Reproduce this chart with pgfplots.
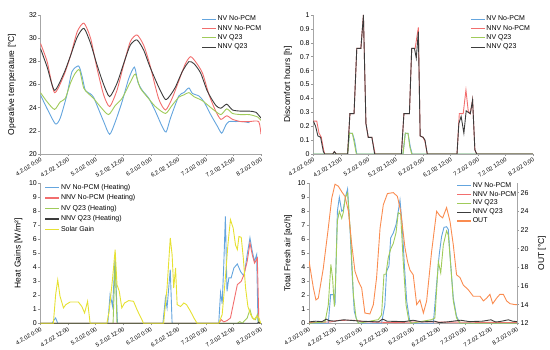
\documentclass[border=0pt]{standalone}
\usepackage{fontspec}
\setmainfont{Liberation Sans}
\usepackage{pgfplots}
\pgfplotsset{compat=1.18}
\definecolor{nvb}{RGB}{100,165,222}
\definecolor{nnvr}{RGB}{242,110,110}
\definecolor{nvg}{RGB}{160,203,90}
\definecolor{nnvk}{RGB}{60,60,60}
\definecolor{solar}{RGB}{230,225,50}
\definecolor{outo}{RGB}{250,140,80}
\pgfplotsset{
  base/.style={
    scale only axis,
    axis x line*=bottom, axis y line*=left,
    xmin=0, xmax=96, xtick={0,12,...,96},
    xticklabels={4.2.02 0:00,4.2.02 12:00,5.2.02 0:00,5.2.02 12:00,6.2.02 0:00,6.2.02 12:00,7.2.02 0:00,7.2.02 12:00,8.2.02 0:00},
    x tick label style={rotate=31, anchor=north east, font=\fontsize{5.8}{7}\selectfont, inner sep=1pt},
    y tick label style={font=\fontsize{7}{8}\selectfont, inner sep=1.5pt},
    /pgf/number format/assume math mode=true,
    tick align=outside, major tick length=2pt,
    tick style={gray!80, line width=0.4pt},
    axis line style={gray!70, line width=0.5pt},
    every axis plot/.append style={line width=0.9pt},
    ylabel style={font=\fontsize{8.5}{10}\selectfont, anchor=center},
    legend style={draw=none, fill=none, inner sep=0pt, outer sep=0pt,
      font=\fontsize{7}{8}\selectfont, row sep=0.8pt,
      nodes={inner sep=1pt, text height=5pt, text depth=1.5pt}},
    legend cell align=left,
    legend image code/.code={\draw[##1, line width=1.1pt] (0pt,0pt) -- (14pt,0pt);},
  }
}
\begin{document}
\begin{tikzpicture}
\useasboundingbox (0pt,0pt) rectangle (550pt,350pt);
% ---------------- Top left
\begin{axis}[base, anchor=south west, at={(40.5pt,196pt)}, width=220.5pt, height=139pt,
  ymin=20, ymax=32, ytick={20,22,...,32},
  ylabel={Operative temperature [°C]}, ylabel style={at={(axis description cs:-0.13,0.5)}},
  legend style={at={(axis description cs:0.73,1.0)}, anchor=north west}]
\addplot[nvb, smooth, tension=0.4] coordinates {(0,25.1) (2.9,23.9) (6.5,22.6) (8.6,23.1) (11.5,25.1) (13.7,27.1) (16.6,27.6) (18.1,26.7) (19.5,25.5) (21.7,25.2) (23.1,24.9) (24.6,24.2) (27.5,22.8) (30.1,21.7) (32.6,22.8) (35.5,24.5) (38.4,26.5) (40.9,27.5) (42.4,26.2) (44.3,25.5) (47.2,24.8) (50,23.7) (52.9,22.4) (54.7,21.9) (56.6,23.1) (60.2,25) (62.4,25.3) (64.6,25.7) (66.1,25.24) (69,25) (71.2,24.5) (74.1,23.4) (77,22.4) (78.9,21.8) (80.7,22.5) (82.1,22.8) (85,22.8) (88,22.8) (91,22.7)};
\addlegendentry{NV No-PCM}
\addplot[nnvr, smooth, tension=0.4] coordinates {(0,29.55) (2.9,27.97) (6.1,25.3) (10.2,26.8) (13.1,28.5) (16,30.56) (18.9,31.3) (21.8,30) (24.6,27.4) (27.5,25.1) (30.1,24.1) (33.3,25.5) (36.2,27.7) (39.1,29.7) (42,30.28) (44.9,29.4) (47.5,27.8) (51.4,24.8) (54.4,23.8) (57.3,24.8) (60.2,26.3) (63.1,27.8) (65.3,28.4) (67.5,27.97) (70.5,27) (73.4,25.1) (76.3,23.7) (78.5,22.99) (81.1,23.3) (83.6,22.99) (87.2,22.8) (90.9,22.8) (95,22.8) (96,21.7)};
\addlegendentry{NNV No-PCM}
\addplot[nvg, smooth, tension=0.4] coordinates {(0,25.3) (2.9,24.5) (6.1,23.85) (8.6,24.5) (10.8,24.8) (13,26.1) (15.1,26.97) (17,27.25) (18.8,25.7) (20.9,25.2) (23.1,24.8) (26,24.1) (29.6,23.4) (32.6,24.2) (35.5,24.8) (39.1,26.2) (41.3,26.9) (43.4,25.7) (47,24.8) (50,24.1) (54.4,23.5) (57.3,24.2) (60.2,24.9) (62.4,25.1) (64.6,25.3) (66.8,24.95) (70.5,24.6) (74.8,23.9) (78.5,23.4) (81.1,23.9) (83.6,23.5) (87.2,23.4) (90.9,23.4) (94.5,23.2) (96,22.9)};
\addlegendentry{NV Q23}
\addplot[nnvk, smooth, tension=0.4] coordinates {(0,29.1) (2.9,27.5) (6.1,25.5) (10.2,26.97) (13.1,28.5) (16,30.1) (18.9,30.85) (21.8,29.55) (24.6,27.7) (27.5,26) (30.1,24.95) (33.3,26.1) (36.2,27.8) (39.1,29.4) (42,29.85) (44.9,28.98) (47.5,27.6) (51.4,25.8) (54.4,24.7) (56.6,25.1) (58.8,25.8) (61.7,27.1) (64.6,27.97) (66.8,27.8) (69.7,27.0) (72.7,25.4) (76.3,24.2) (78.5,23.95) (81.1,24.3) (83.6,23.8) (87.2,23.7) (90.9,23.7) (93.8,23.6) (96,23.1)};
\addlegendentry{NNV Q23}
\end{axis}
% ---------------- Top right
\begin{axis}[base, anchor=south west, at={(313.3pt,196pt)}, width=219.7pt, height=139pt,
  ymin=0, ymax=1, ytick={0,0.1,0.2,0.3,0.4,0.5,0.6,0.7,0.8,0.9,1},
  yticklabel style={/pgf/number format/.cd, fixed, precision=1},
  ylabel={Discomfort hours [h]}, ylabel style={at={(axis description cs:-0.115,0.5)}},
  legend style={at={(axis description cs:0.715,1.0)}, anchor=north west}]
\addplot[nvb] coordinates {(0,0) (15,0) (15.8,0.15) (17.1,0.148) (18,0.1) (19,0) (39.2,0) (40.2,0.15) (41.4,0.148) (42.4,0.05) (43.2,0) (96,0)};
\addlegendentry{NV No-PCM}
\addplot[nnvr] coordinates {(0,0.237) (1,0.237) (1.5,0.237) (2.5,0.15) (3.5,0.12) (4.5,0.03) (5,0) (8.5,0) (9.2,0.017) (10,0) (15,0) (16,0.29) (17.8,0.29) (19,0.76) (20.8,0.76) (21.9,1.0) (23,0.22) (24,0.12) (25.6,0.12) (27,0) (38.5,0) (39.6,0.29) (42,0.29) (43,0.76) (44.5,0.76) (45.9,0.91) (46.7,0.13) (48,0.12) (48.8,0.09) (49.8,0) (62.8,0) (63.8,0.29) (65.5,0.29) (66.7,0.46) (67.7,0.31) (68.6,0.29) (69.6,0.39) (70.6,0.03) (71.4,0) (96,0)};
\addlegendentry{NNV No-PCM}
\addplot[nvg] coordinates {(0,0) (15,0) (15.8,0.15) (17.1,0.148) (17.8,0.09) (18.8,0) (39.2,0) (40.2,0.15) (41.4,0.148) (42.2,0.05) (43,0) (96,0)};
\addlegendentry{NV Q23}
\addplot[nnvk] coordinates {(0,0.237) (1,0.2) (2,0.13) (3.2,0.12) (4.4,0.017) (5,0) (8.5,0) (9.2,0.017) (10,0) (15,0) (16,0.29) (17.8,0.29) (19,0.76) (20.8,0.76) (21.9,1.0) (23,0.22) (24,0.12) (25.6,0.12) (26.8,0) (38.5,0) (39.6,0.29) (42,0.29) (43,0.76) (44.2,0.76) (45,0.69) (45.9,0.88) (46.7,0.13) (48,0.12) (48.8,0.1) (49.8,0) (62.8,0) (63.6,0.22) (64.6,0.27) (65.8,0.15) (66.8,0.31) (67.7,0.30) (68.6,0.29) (69.6,0.39) (70.6,0.03) (71.4,0) (96,0)};
\addlegendentry{NNV Q23}
\end{axis}
% ---------------- Bottom left
\begin{axis}[base, anchor=south west, at={(40.5pt,26.7pt)}, width=220.5pt, height=140pt,
  ymin=0, ymax=10, ytick={0,1,...,10},
  ylabel={Heat Gains [W/m²]}, ylabel style={at={(axis description cs:-0.10,0.5)}},
  legend style={at={(axis description cs:0.02,1.0)}, anchor=north west, row sep=2pt}]
\addplot[nvb] coordinates {(0,0) (5,0) (6,0.26) (6.6,0.38) (7.5,0) (29.3,0) (30.3,2.05) (31.4,1.2) (32.5,4.7) (33.5,0) (53.3,0) (54.4,1.81) (55.1,1.1) (56.5,3.83) (57.3,0) (77.6,0) (78.4,2.19) (79.1,1.4) (79.8,4.2) (80.5,7.64) (81.2,2.28) (82,3.24) (83,3.24) (84.2,3.95) (85.7,4.24) (87.1,3.7) (88.6,3.36) (90,4.9) (91.2,6.1) (92.2,5.14) (93.2,4.43) (94.1,4.9) (94.7,0) (96,0)};
\addlegendentry{NV No-PCM (Heating)}
\addplot[nnvr] coordinates {(0,0) (77.6,0) (78.7,0.26) (79.8,0.1) (81.2,0.19) (82.7,0.38) (84.2,1.57) (85.7,2.76) (87.4,3.0) (88.6,3.48) (90,4.43) (91.2,5.74) (92.2,4.9) (93.2,4.3) (94.4,4.67) (95.1,0) (96,0)};
\addlegendentry{NNV No-PCM (Heating)}
\addplot[nvg] coordinates {(0,0) (31.6,0) (32.5,4.5) (33.3,0) (85.7,0) (86.8,0.12) (87.8,0) (90,0.38) (91.2,0.98) (92.2,0.38) (93.6,0.26) (94.4,0.62) (95.1,0) (96,0)};
\addlegendentry{NV Q23 (Heating)}
\addplot[nnvk] coordinates {(0,0) (94.5,0) (95,0.08) (95.5,0) (96,0)};
\addlegendentry{NNV Q23 (Heating)}
\addplot[solar] coordinates {(0,0) (5.6,0) (6.6,2.05) (7.5,3.1) (8.5,1.93) (10,1.1) (11,1.33) (12.9,1.52) (16.5,1.52) (18,1.2) (19.2,0.74) (20.5,1.57) (21,0.86) (21.6,0) (28.9,0) (29.9,0.86) (31.4,3.24) (32.5,5.26) (33.3,2.76) (34.3,2.28) (35.4,1.1) (36.6,1.45) (38.4,1.62) (40.5,1.57) (42,0.98) (43.4,0.5) (44.9,0) (53.6,0) (55.1,2.52) (56.5,6.1) (57.3,4.9) (58,2.52) (58.8,3.95) (59.5,1.33) (61,1.2) (62.4,1.45) (63.6,1.33) (65.3,0.86) (66.8,0.38) (68.2,0) (77.6,0) (79.1,0.62) (80.5,3.24) (81.6,5.62) (82.7,7.4) (83.9,6.8) (84.9,5.6) (85.7,5.26) (86.4,6.2) (87.4,6.14) (88.3,4.67) (89.3,2.52) (90.3,1.2) (91.5,0.62) (93,0.26) (94.1,0.5) (95.1,0.38) (95.9,0) (96,0)};
\addlegendentry{Solar Gain}
\end{axis}
% ---------------- Bottom right
\begin{axis}[base, anchor=south west, at={(309pt,26.7pt)}, width=208pt, height=140pt,
  ymin=0, ymax=10, ytick={0,1,...,10},
  ylabel={Total Fresh air [ac/h]}, ylabel style={at={(axis description cs:-0.10,0.5)}}]
\addplot[nvb] coordinates {(0,0) (8.9,0) (10,2.05) (11.2,2.05) (12,1.3) (13.1,8.0) (14,9.0) (15.1,8.0) (15.8,8.1) (16.8,9.0) (17.8,9.6) (18.9,6.8) (20,3.2) (20.9,0.85) (22,0.26) (23,0) (33.5,0) (35,1.3) (35.8,3.7) (36.9,4.1) (37.7,6.1) (38.9,6.45) (40.2,7.05) (41.2,8.0) (42,8.8) (43,7.05) (44,4.2) (45.1,1.57) (46.4,0.26) (47.4,0) (57.4,0) (58.9,2.8) (60.1,4.9) (61.2,6.2) (62.3,6.85) (63.5,6.9) (64.3,6.7) (65.4,4.2) (66.6,1.8) (68.1,0.5) (69.7,0) (96,0)};
\addplot[nnvr] coordinates {(0,0.05) (10,0.1) (13,0.2) (18,0.22) (22,0.2) (26,0.1) (40,0.05) (50,0.1) (96,0.05)};
\addplot[nvg] coordinates {(0,0) (7.4,0.1) (8.9,1.3) (10.1,4.2) (10.9,3.2) (11.7,1.2) (12.2,2.76) (13.1,7.3) (14,8.0) (15.1,7.5) (15.8,7.9) (16.8,9.0) (17.8,9.3) (19.2,6.3) (20.5,2.0) (21.7,0.4) (22.8,0) (32,0.26) (33.5,0.6) (34.6,3.5) (35.5,3.5) (36.6,4.7) (37.7,5.3) (38.9,5.7) (40.2,6.5) (41.2,7.9) (42.3,7.8) (43.5,4.4) (44.8,1.3) (46,0.26) (47.1,0) (56.6,0.26) (58.1,0.38) (59.7,4.4) (60.8,3.6) (62,5.6) (63.5,6.6) (64.3,6.3) (65.5,4.0) (66.6,1.6) (68.1,0.38) (69.7,0) (96,0)};
\addplot[nnvk] coordinates {(0,0.1) (3,0.15) (6,0.12) (8,0.3) (9,0.2) (12,0.15) (16,0.25) (20,0.2) (24,0.15) (32,0.1) (34,0.3) (36,0.15) (44,0.12) (48,0.22) (52,0.1) (58,0.15) (60,0.05) (64,0.1) (70,0.22) (74,0.12) (80,0.15) (84,0.25) (86,0.1) (88,0.12) (92,0.25) (94,0.15) (96,0.12)};
\end{axis}
\begin{axis}[base, anchor=south west, at={(309pt,26.7pt)}, width=208pt, height=140pt,
  axis x line=none, axis y line*=right,
  ymin=12, ymax=27, ytick={12,14,...,26},
  ylabel={OUT [°C]}, ylabel style={at={(axis description cs:1.12,0.5)}},
  legend style={at={(axis description cs:0.71,1.015)}, anchor=north west, row sep=0.4pt}]
\addlegendimage{nvb}\addlegendentry{NV No-PCM}
\addlegendimage{nnvr}\addlegendentry{NNV No-PCM}
\addlegendimage{nvg}\addlegendentry{NV Q23}
\addlegendimage{nnvk}\addlegendentry{NNV Q23}
\addplot[outo] coordinates {(0,18.7) (2,15.8) (3.2,14.5) (4.3,14.7) (6.6,17.9) (8.9,22.2) (10.5,25.4) (12,26.9) (13.5,26.7) (15.1,26.1) (16.6,25.6) (18.2,24.0) (19.7,20.5) (21.2,17.6) (22.8,16.5) (24.3,15.8) (25.8,13.1) (28.1,13.0) (29.7,14.0) (31.2,16.9) (32.8,22.2) (34.3,24.7) (36.2,25.9) (38.9,26.0) (40.8,25.6) (42.3,24.0) (44.3,20.1) (45.5,18.6) (46.6,17.7) (48.1,17.2) (49.7,14.0) (51.2,14.5) (52.8,13.1) (54.3,14.4) (56.6,19.7) (58.9,24.0) (60.5,23.5) (61.7,23.3) (63.5,24.4) (65.1,22.9) (66.6,20.4) (68.1,17.2) (69.7,16.9) (71.2,16.1) (73.5,15.6) (75.8,14.9) (78.9,14.9) (80.5,14.4) (82,14.7) (83.5,15.1) (84.8,14.1) (86.6,14.7) (88.1,15.1) (89.7,15.1) (91.2,14.4) (92.8,14.1) (95.1,14.0) (96,14.0)};
\addlegendentry{OUT}
\end{axis}
\end{tikzpicture}
\end{document}
